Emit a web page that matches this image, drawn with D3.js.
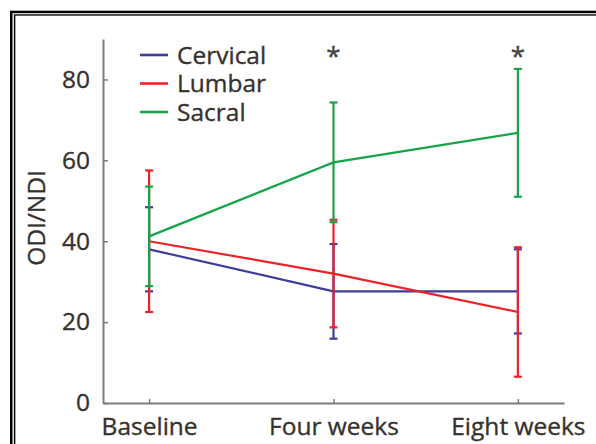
<!DOCTYPE html>
<html>
<head>
<meta charset="utf-8">
<script src="https://cdn.jsdelivr.net/npm/d3@7"></script>
<style>
  html, body { margin: 0; padding: 0; background: #fff; }
  svg { display: block; }
  text { font-family: "Open Sans", "Noto Sans", sans-serif; fill: #37312e; stroke: #37312e; stroke-width: 0.35px; }
</style>
</head>
<body>
<div id="chart"></div>
<script>
// values
const categories = ["Baseline", "Four weeks", "Eight weeks"];
const cervicalMean = [38, 27.6, 27.6];
const cervicalErr = [10.4, 11.7, 10.4];
const lumbarMean = [40, 32, 22.5];
const lumbarErr = [17.5, 13.3, 16];
const sacralMean = [41.2, 59.5, 66.8];
const sacralErr = [12.3, 14.8, 15.8];
const yTicks = [0, 20, 40, 60, 80];
const starredAt = ["Four weeks", "Eight weeks"];
const starLevel = 87;

const width = 596, height = 444;

const svg = d3.select("#chart").append("svg")
  .attr("width", width)
  .attr("height", height);

// double frame round the figure (runs off the right and bottom)
svg.append("rect")
  .attr("x", 11.3).attr("y", 12).attr("width", 700).attr("height", 600)
  .attr("fill", "none").attr("stroke", "#000").attr("stroke-width", 2.6);
svg.append("rect")
  .attr("x", 13.3).attr("y", 13.9).attr("width", 700).attr("height", 600)
  .attr("fill", "none").attr("stroke", "#d0d0d0").attr("stroke-width", 1.2);
svg.append("rect")
  .attr("x", 14.7).attr("y", 15).attr("width", 700).attr("height", 600)
  .attr("fill", "none").attr("stroke", "#000").attr("stroke-width", 1.3);

const x = d3.scalePoint().domain(categories).range([103, 564]).padding(0.25);
const y = d3.scaleLinear().domain([0, 90]).range([403, 39]);

const axisColor = "#7d7d7d";

const gy = svg.append("g")
  .attr("transform", "translate(103,0)")
  .call(d3.axisLeft(y).tickValues(yTicks).tickSizeInner(-5).tickSizeOuter(0).tickPadding(13));
gy.select(".domain").attr("stroke", axisColor).attr("stroke-width", 2);
gy.selectAll(".tick line").attr("stroke", axisColor).attr("stroke-width", 1.5);
gy.selectAll(".tick text")
  .attr("font-size", 24.5)
  .attr("fill", "#37312e")
  .style("font-family", "'Open Sans', sans-serif");

const gx = svg.append("g")
  .attr("transform", "translate(0,403)")
  .call(d3.axisBottom(x).tickSizeInner(-4).tickSizeOuter(0).tickPadding(15));
gx.select(".domain").attr("stroke", axisColor).attr("stroke-width", 2);
gx.selectAll(".tick line").attr("stroke", axisColor).attr("stroke-width", 1.5);
gx.selectAll(".tick text")
  .attr("font-size", 24.5)
  .attr("fill", "#37312e")
  .style("font-family", "'Open Sans', sans-serif");

svg.append("text")
  .attr("transform", "translate(45,218) rotate(-90)")
  .attr("text-anchor", "middle")
  .attr("font-size", 24.5)
  .text("ODI/NDI");

const series = [
  { name: "Cervical", color: "#3d3d9c", mean: cervicalMean, err: cervicalErr },
  { name: "Lumbar", color: "#ec2227", mean: lumbarMean, err: lumbarErr },
  { name: "Sacral", color: "#17a347", mean: sacralMean, err: sacralErr }
];

const line = d3.line()
  .x((d, i) => x(categories[i]))
  .y(d => y(d));

const capW = 4;

series.forEach(s => {
  const g = svg.append("g");
  g.append("path")
    .datum(s.mean)
    .attr("d", line)
    .attr("fill", "none")
    .attr("stroke", s.color)
    .attr("stroke-width", 2.2);

  const bars = s.mean.map((m, i) => ({ c: categories[i], lo: m - s.err[i], hi: m + s.err[i] }));
  g.selectAll(".bar").data(bars).join("line")
    .attr("x1", d => x(d.c)).attr("x2", d => x(d.c))
    .attr("y1", d => y(d.lo)).attr("y2", d => y(d.hi))
    .attr("stroke", s.color).attr("stroke-width", 2.2);
  g.selectAll(".capLo").data(bars).join("line")
    .attr("x1", d => x(d.c) - capW).attr("x2", d => x(d.c) + capW)
    .attr("y1", d => y(d.lo)).attr("y2", d => y(d.lo))
    .attr("stroke", s.color).attr("stroke-width", 2.2);
  g.selectAll(".capHi").data(bars).join("line")
    .attr("x1", d => x(d.c) - capW).attr("x2", d => x(d.c) + capW)
    .attr("y1", d => y(d.hi)).attr("y2", d => y(d.hi))
    .attr("stroke", s.color).attr("stroke-width", 2.2);
});

// significance stars
svg.selectAll(".star").data(starredAt).join("text")
  .attr("x", d => x(d))
  .attr("y", y(starLevel))
  .attr("dy", "0.55em")
  .attr("text-anchor", "middle")
  .attr("font-size", 26)
  .style("fill", "#444")
  .style("stroke", "#444")
  .text("*");

// legend
const legend = svg.append("g");
series.forEach((s, i) => {
  const ly = 55 + i * 28.5;
  legend.append("line")
    .attr("x1", 140).attr("x2", 168)
    .attr("y1", ly).attr("y2", ly)
    .attr("stroke", s.color).attr("stroke-width", 2.6);
  legend.append("text")
    .attr("x", 177).attr("y", ly)
    .attr("dy", "0.36em")
    .attr("font-size", 24.5)
    .text(s.name);
});
</script>
</body>
</html>
